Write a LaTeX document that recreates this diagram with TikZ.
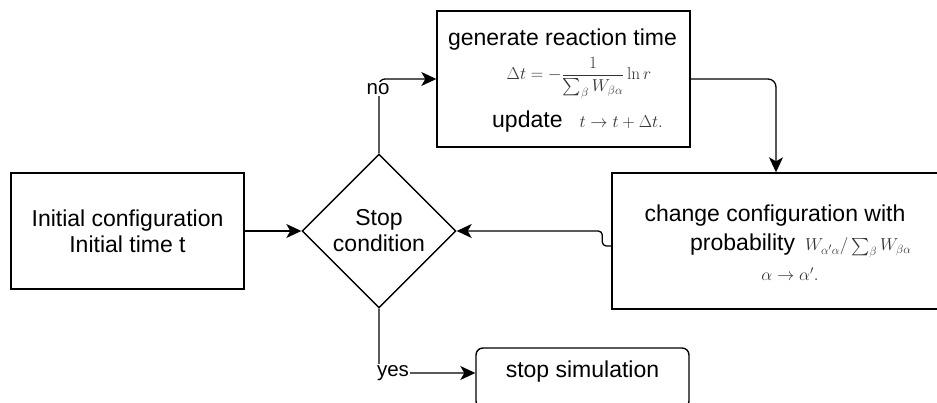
\documentclass[tikz,border=0pt]{standalone}
\usepackage{amsmath}
\usepackage[no-math]{fontspec}
\setmainfont{Liberation Sans}
\usetikzlibrary{shapes.geometric,arrows.meta}

\begin{document}
\begin{tikzpicture}[x=1pt,y=-1pt,
  box/.style={draw, line width=1.4pt, inner sep=0pt},
  arr/.style={line width=1.3pt, -{Stealth[length=15pt,width=14pt,inset=4pt]}},
  lbl/.style={fill=white, inner sep=1.5pt, font=\fontsize{20.5}{24}\selectfont},
  txt/.style={font=\fontsize{23}{26}\selectfont, align=center, inner sep=0pt},
  mth/.style={text=black!80, inner sep=0pt, font=\fontsize{17.28}{21}\selectfont}]
\useasboundingbox (0,0) rectangle (937,403);

% boxes
\node[box, txt, minimum width=233pt, minimum height=116pt] (init) at (127.5,231)
  {Initial configuration\\Initial time t};
\node[box, txt, diamond, aspect=1, minimum width=154pt, minimum height=154pt] (cond)
  at (379,231) {Stop\\condition};
\node[box, minimum width=253pt, minimum height=136pt] (gen) at (563.5,79) {};
\node[box, minimum width=328pt, minimum height=136pt] (change) at (776,241) {};
\node[box, rounded corners=7pt, minimum width=213pt, minimum height=60pt] (stop)
  at (582.5,378) {};

% text of the reaction-time box
\node[txt] (gentitle) at (562.5,40) {generate reaction time};
\node[mth] (genformula) at (579,78)
  {$\displaystyle \Delta t = -\frac{1}{\sum_\beta W_{\beta\alpha}}\ln r$};
\node[inner sep=0pt, anchor=base west] (genupdate) at (492,128)
  {\fontsize{23}{26}\selectfont update\hspace{17pt}{\color{black!80}\fontsize{17.28}{21}\selectfont$t\to t+\Delta t.$}};

% text of the configuration-change box
\node[txt] (chtitle) at (775,216) {change configuration with};
\node[inner sep=0pt, anchor=base west] (chprob) at (690,251)
  {\fontsize{23}{26}\selectfont probability\hspace{10pt}{\color{black!80}\fontsize{17.28}{21}\selectfont$W_{\alpha'\alpha}/\sum_\beta W_{\beta\alpha}$}};
\node[mth] (chmove) at (790,274) {$\alpha\to\alpha'.$};

% text of the final box
\node[txt] (stoptext) at (582.5,372) {stop simulation};

% connectors
\draw[arr] (init.east) -- (cond.west);
\draw[arr, rounded corners=6pt] (cond.north) |- (gen.west);
\node[lbl] (nolbl) at (378,89) {no};
\draw[arr, rounded corners=8pt] (gen.east) -| (change.north);
\draw[arr, rounded corners=4pt] ([yshift=-5pt]change.west) -- ++(-9,0) |- (cond.east);
\draw[arr, rounded corners=6pt] (cond.south) |- ([yshift=5pt]stop.west);
\node[lbl] (yeslbl) at (393,373) {yes};
\end{tikzpicture}
\end{document}
